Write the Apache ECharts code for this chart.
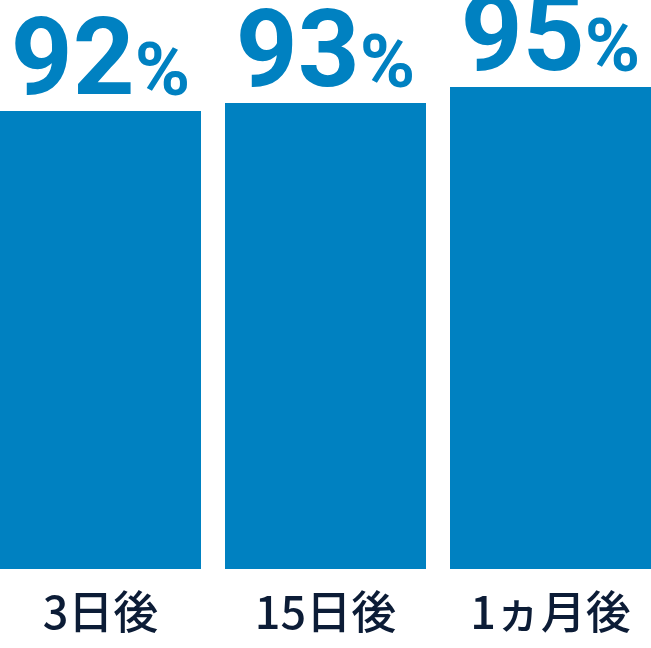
<!DOCTYPE html>
<html>
<head>
<meta charset="utf-8">
<script src="https://cdn.jsdelivr.net/npm/echarts@6/dist/echarts.min.js"></script>
<style>
html,body{margin:0;padding:0;background:#fff;}
#chart{width:651px;height:648px;}
</style>
</head>
<body>
<div id="chart"></div>
<script>
const categories = ['3日後', '15日後', '1ヵ月後'];
const values = [92, 93, 95];

const chart = echarts.init(document.getElementById('chart'));
chart.setOption({
  animation: false,
  grid: { left: -12, width: 675, top: 87, bottom: 79, containLabel: false, outerBoundsMode: 'none' },
  xAxis: {
    type: 'category',
    data: categories,
    axisLine: { show: false },
    axisTick: { show: false },
    axisLabel: {
      margin: 20,
      fontSize: 45,
      fontWeight: 500,
      color: '#0c1c36',
      fontFamily: '"Noto Sans CJK JP", "Noto Sans", sans-serif'
    }
  },
  yAxis: {
    type: 'value',
    min: 35,
    max: 95,
    show: false,
    splitLine: { show: false }
  },
  series: [{
    type: 'bar',
    data: values,
    barWidth: 201,
    itemStyle: { color: '#0081c1' },
    label: {
      show: true,
      position: 'top',
      distance: -10,
      formatter: function (p) { return '{a|' + p.value + '}{b|%}'; },
      rich: {
        a: { fontSize: 108, fontWeight: 'bold', color: '#0081c1', fontFamily: 'Roboto', verticalAlign: 'bottom', lineHeight: 100 },
        b: { fontSize: 75, fontWeight: 'bold', color: '#0081c1', fontFamily: 'Roboto', verticalAlign: 'bottom', lineHeight: 100, padding: [0, 0, 7, 0] }
      }
    }
  }]
});
</script>
</body>
</html>
